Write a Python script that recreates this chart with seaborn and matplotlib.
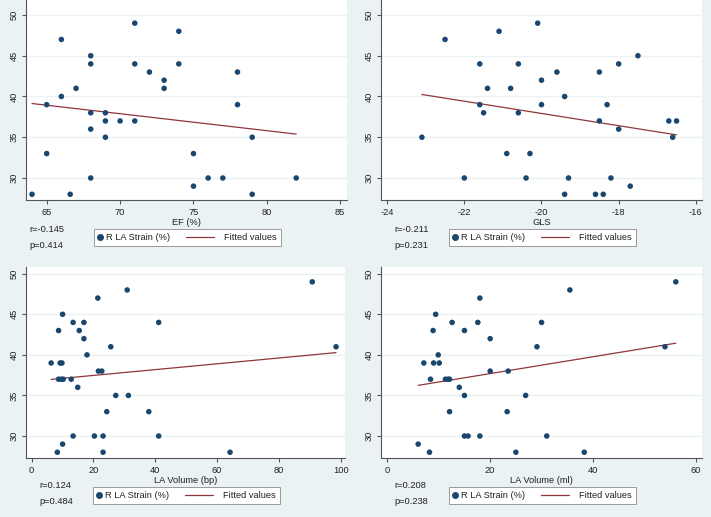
import numpy as np
import pandas as pd
import matplotlib
matplotlib.use("Agg")
import matplotlib.pyplot as plt
import seaborn as sns
from matplotlib.lines import Line2D
from matplotlib.legend_handler import HandlerLine2D

# ---------------- data ----------------
ef_x = [64, 65, 65, 66, 66, 66.6, 67, 68, 68, 68, 68, 68, 69, 69, 69, 70, 71, 71, 71,
        72, 73, 73, 74, 74, 75, 75, 76, 77, 78, 78, 79, 79, 82]
ef_y = [28, 39, 33, 47, 40, 28, 41, 45, 44, 38, 36, 30, 38, 37, 35, 37, 49, 44, 37,
        43, 42, 41, 48, 44, 33, 29, 30, 30, 43, 39, 35, 28, 30]

gls_x = [-23.1, -22.5, -22.0, -21.6, -21.6, -21.5, -21.4, -21.1, -20.9, -20.8, -20.6,
         -20.6, -20.4, -20.3, -20.1, -20.0, -20.0, -19.6, -19.4, -19.4, -19.3, -18.6,
         -18.5, -18.5, -18.4, -18.3, -18.2, -18.0, -18.0, -17.7, -17.5, -16.7, -16.6, -16.5]
gls_y = [35, 47, 30, 44, 39, 38, 41, 48, 33, 41, 44,
         38, 30, 33, 49, 42, 39, 43, 40, 28, 30, 28,
         43, 37, 28, 39, 30, 44, 36, 29, 45, 37, 35, 37]

lavbp_x = [6.3, 8.3, 8.7, 8.7, 9.2, 9.6, 9.8, 10.0, 10.0, 10.2, 12.8, 13.4, 13.4, 14.9,
           15.4, 16.9, 16.9, 17.9, 20.3, 21.4, 21.6, 22.7, 23.1, 23.1, 24.3, 25.6, 27.2,
           30.9, 31.3, 37.9, 41.1, 41.1, 64.2, 90.8, 98.5]
lavbp_y = [39, 28, 43, 37, 39, 37, 39, 45, 29, 37, 37, 44, 30, 36,
           43, 44, 42, 40, 30, 47, 38, 38, 30, 28, 33, 41, 35,
           48, 35, 33, 44, 30, 28, 49, 41]

laml_x = [6.0, 7.1, 8.2, 8.4, 8.9, 9.0, 9.4, 9.9, 10.1, 11.3, 11.8, 12.1, 12.1, 12.6,
          14.0, 15.0, 15.0, 15.0, 15.7, 17.6, 18.0, 18.0, 20.0, 20.0, 23.3, 23.5, 25.0,
          26.9, 29.1, 30.0, 31.0, 35.5, 38.3, 54.0, 56.1]
laml_y = [29, 39, 28, 37, 43, 39, 45, 40, 39, 37, 37, 37, 33, 44,
          36, 43, 35, 30, 30, 44, 47, 30, 42, 38, 33, 38, 28,
          35, 41, 44, 30, 48, 28, 41, 49]

x_labels = ["EF (%)", "GLS", "LA Volume (bp)", "LA Volume (ml)"]
r_texts = ["r=-0.145", "r=-0.211", "r=0.124", "r=0.208"]
p_texts = ["p=0.414", "p=0.231", "p=0.484", "p=0.238"]
x_ticks = [[65, 70, 75, 80, 85], [-24, -22, -20, -18, -16],
           [0, 20, 40, 60, 80, 100], [0, 20, 40, 60]]
y_ticks = [30, 35, 40, 45, 50]
legend_labels = ["R LA Strain (%)", "Fitted values"]

# ---------------- style ----------------
BG = "#eaf2f3"
NAVY = "#1a476f"
MAROON = "#90353b"
AXC = "#555555"
TXT = "#222222"
W, H = 711, 517
FS = 6.7
PX = 0.72  # points per pixel at 100 dpi


class LongLineLeft(HandlerLine2D):
    """Line handle that extends to the left of a short handle box."""
    def get_xdata(self, legend, xdescent, ydescent, width, height, fontsize):
        end = -xdescent + width - 6.3 * PX
        xs = [end - 28 * PX, end]
        return xs, [np.mean(xs)]


sns.set_style("white")
plt.rcParams["font.family"] = ["Liberation Sans", "DejaVu Sans"]

fig = plt.figure(figsize=(W / 100, H / 100), dpi=100, facecolor=BG)

panels = [
    dict(box=(26, 347, 0, 200), xlim=(63.59, 85.46), ylim=(27.3, 51.84),
         x=ef_x, y=ef_y, textx=29, ry=229, py=245, leg=(94, 278, 228, 247)),
    dict(box=(381, 702, 0, 200), xlim=(-24.16, -15.84), ylim=(27.3, 51.84),
         x=gls_x, y=gls_y, textx=394, ry=229, py=245, leg=(449, 633, 228, 247)),
    dict(box=(26, 345, 267, 458), xlim=(-1.84, 101.4), ylim=(27.29, 50.83),
         x=lavbp_x, y=lavbp_y, textx=39, ry=485, py=501, leg=(93, 278, 486, 505)),
    dict(box=(381, 702, 267, 458), xlim=(-1.23, 61.2), ylim=(27.29, 50.83),
         x=laml_x, y=laml_y, textx=394, ry=485, py=501, leg=(449, 633, 486, 505)),
]

for i, p in enumerate(panels):
    l, r, t, b = p["box"]
    ax = fig.add_axes([l / W, 1 - b / H, (r - l) / W, (b - t) / H])
    ax.set_facecolor("white")
    df = pd.DataFrame({"x": p["x"], "y": p["y"]})
    ax.set_axisbelow(True)
    ax.grid(axis="y", color=BG, lw=1.0)
    ax.grid(axis="x", visible=False)
    sns.regplot(data=df, x="x", y="y", ax=ax, scatter=False, ci=None,
                truncate=True, color=MAROON, line_kws=dict(lw=0.9))
    sns.scatterplot(data=df, x="x", y="y", ax=ax, color=NAVY, s=16,
                    edgecolor="none", legend=False, zorder=3)
    ax.set_xlim(*p["xlim"])
    ax.set_ylim(*p["ylim"])
    ax.set_xticks(x_ticks[i])
    ax.set_yticks(y_ticks)
    ax.set_xticklabels([str(v) for v in x_ticks[i]])
    ax.set_yticklabels([str(v) for v in y_ticks], rotation=90, va="center")
    for s in ["top", "right"]:
        ax.spines[s].set_visible(False)
    for s in ["left", "bottom"]:
        ax.spines[s].set_color(AXC)
        ax.spines[s].set_linewidth(0.8)
    ax.tick_params(axis="both", direction="out", length=3, width=0.8,
                   color=AXC, labelsize=FS, pad=2.5, labelcolor=TXT,
                   left=True, bottom=True)
    ax.set_xlabel(x_labels[i], fontsize=FS, labelpad=1, color=TXT)
    ax.set_ylabel("")

    fig.text(p["textx"] / W, 1 - p["ry"] / H, r_texts[i], fontsize=FS,
             va="center", ha="left", color=TXT)
    fig.text(p["textx"] / W, 1 - p["py"] / H, p_texts[i], fontsize=FS,
             va="center", ha="left", color=TXT)

    ll, lr, lt, lb = p["leg"]
    h_pt = Line2D([], [], marker="o", ls="none", color=NAVY, markersize=4)
    h_ln = Line2D([], [], color=MAROON, lw=0.9)
    leg = ax.legend([h_pt, h_ln], legend_labels, ncol=2, loc="center left",
                    bbox_to_anchor=(ll / W, 1 - ((lt + lb) / 2) / H),
                    bbox_transform=fig.transFigure, fontsize=FS, frameon=True,
                    fancybox=False, edgecolor="#9a9a9a", facecolor="white",
                    framealpha=1, handlelength=0.4, handletextpad=0.45,
                    columnspacing=5.0, borderpad=0.42, borderaxespad=0,
                    handler_map={h_ln: LongLineLeft()})
    leg.get_frame().set_linewidth(0.7)
    for txt in leg.get_texts():
        txt.set_color(TXT)

fig.savefig("out.png", dpi=100, facecolor=BG)
